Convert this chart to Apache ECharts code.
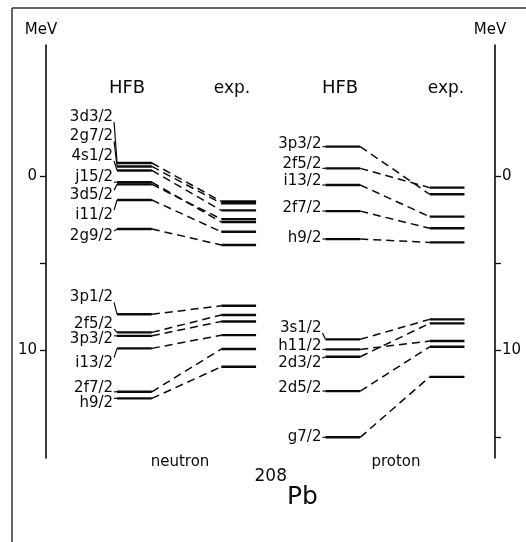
<!DOCTYPE html>
<html>
<head>
<meta charset="utf-8">
<script src="https://cdn.jsdelivr.net/npm/echarts@6/dist/echarts.min.js"></script>
<style>html,body{margin:0;padding:0;background:#fff;}#c{width:526px;height:542px;}</style>
</head>
<body>
<div id="c"></div>
<script>
// ---- data (energies in MeV, plotted downward = more bound) ----
const neutronLevels = ['3d3/2','2g7/2','4s1/2','j15/2','3d5/2','i11/2','2g9/2','3p1/2','2f5/2','3p3/2','i13/2','2f7/2','h9/2'];
const neutronHFB    = [-0.78, -0.58, -0.35, 0.33, 0.45, 1.35, 3.02, 7.93, 8.97, 9.17, 9.89, 12.39, 12.77];
const neutronExp    = [1.43, 1.54, 1.95, 2.62, 2.45, 3.18, 3.94, 7.44, 7.97, 8.34, 9.13, 9.93, 10.95];

const protonLevels  = ['3p3/2','2f5/2','i13/2','2f7/2','h9/2','3s1/2','h11/2','2d3/2','2d5/2','g7/2'];
const protonHFB     = [-1.72, -0.47, 0.49, 1.99, 3.60, 9.37, 9.95, 10.37, 12.35, 15.01];
const protonExp     = [1.02, 0.64, 2.31, 2.98, 3.79, 8.22, 9.47, 8.45, 9.80, 11.53];

const axisTickValuesLeft  = [0, 5, 10];
const axisTickValuesRight = [0, 5, 10, 15];
const axisLabelValues     = [0, 10];

// ---- layout (label vertical placement, in axis units) ----
const neutronLabelPos = [-3.43, -2.31, -1.18, 0.03, 1.07, 2.22, 3.43, 6.96, 8.49, 9.36, 10.71, 12.15, 13.06];
const protonLabelPos  = [-1.87, -0.72, 0.26, 1.81, 3.54, 8.72, 9.76, 10.74, 12.18, 15.0];

const FONT = 'DejaVu Sans';
const INK = '#0a0a0a';
const chart = echarts.init(document.getElementById('c'), null, {renderer: 'canvas'});

function makeRender(names) {
  return function (params, api) {
    const hfb = api.value(0), exp = api.value(1), lab = api.value(2), col = api.value(3);
    const hw = 0.167;
    const p1 = api.coord([col - hw, hfb]);
    const p2 = api.coord([col + hw, hfb]);
    const p3 = api.coord([col + 1 - hw, exp]);
    const p4 = api.coord([col + 1 + hw, exp]);
    const pl = api.coord([col - hw, lab]);
    const solid = {stroke: INK, lineWidth: 2.4};
    const dash = {stroke: INK, lineWidth: 1.5, lineDash: [8, 5]};
    return {
      type: 'group',
      children: [
        {type: 'line', shape: {x1: p1[0], y1: p1[1], x2: p2[0], y2: p2[1]}, style: solid},
        {type: 'line', shape: {x1: p2[0], y1: p2[1], x2: p3[0], y2: p3[1]}, style: dash},
        {type: 'line', shape: {x1: p3[0], y1: p3[1], x2: p4[0], y2: p4[1]}, style: solid},
        {type: 'line', shape: {x1: p1[0] - 3, y1: pl[1] + Math.max(-5, Math.min(5, p1[1] - pl[1])), x2: p1[0], y2: p1[1]},
          style: {stroke: INK, lineWidth: 1.2}},
        {type: 'text', x: p1[0] - 4, y: pl[1],
          style: {text: names[params.dataIndex], fill: INK, font: '15px "' + FONT + '"', align: 'right', verticalAlign: 'middle'}}
      ]
    };
  };
}

const neutronData = neutronLevels.map((n, i) => [neutronHFB[i], neutronExp[i], neutronLabelPos[i], 0]);
const protonData  = protonLevels.map((n, i) => [protonHFB[i], protonExp[i], protonLabelPos[i], 2]);

function yAxisCfg(pos, ticks) {
  return {
    type: 'value', position: pos, inverse: true, min: -7.57, max: 16.2,
    splitLine: {show: false},
    axisLine: {show: true, onZero: false, lineStyle: {color: INK, width: 1.6}},
    axisTick: {show: true, inside: false, length: 6, customValues: ticks, lineStyle: {color: INK, width: 1.3}},
    axisLabel: {show: true, customValues: axisLabelValues, color: INK, fontFamily: FONT, fontSize: 15,
      margin: pos === 'left' ? 9 : 7, padding: [0, 0, 9, 0]}
  };
}

function txt(x, y, s, size, align) {
  return {type: 'text', x: x, y: y, style: {text: s, font: size + 'px "' + FONT + '"', fill: INK, align: align || 'center', verticalAlign: 'middle'}};
}

chart.setOption({
  backgroundColor: '#fff',
  animation: false,
  grid: {left: 46, right: 31, top: 45, bottom: 84},
  xAxis: {type: 'value', min: -0.849, max: 3.46, show: false},
  yAxis: [yAxisCfg('left', axisTickValuesLeft), yAxisCfg('right', axisTickValuesRight)],
  series: [
    {type: 'custom', renderItem: makeRender(neutronLevels), data: neutronData, yAxisIndex: 0, clip: false},
    {type: 'custom', renderItem: makeRender(protonLevels), data: protonData, yAxisIndex: 0, clip: false}
  ],
  graphic: [
    {type: 'line', shape: {x1: 12, y1: 8, x2: 526, y2: 8}, style: {stroke: '#333', lineWidth: 1.5}},
    {type: 'line', shape: {x1: 12, y1: 8, x2: 12, y2: 542}, style: {stroke: '#333', lineWidth: 1.5}},
    txt(41, 30, 'MeV', 15),
    txt(490, 30, 'MeV', 15),
    txt(127, 88, 'HFB', 18),
    txt(232, 89, 'exp.', 17),
    txt(340, 88, 'HFB', 18),
    txt(446, 89, 'exp.', 17),
    txt(180, 462, 'neutron', 15),
    txt(396, 462, 'proton', 15),
    txt(287, 477, '208', 17, 'right'),
    txt(287, 497, 'Pb', 25, 'left')
  ]
});
</script>
</body>
</html>
